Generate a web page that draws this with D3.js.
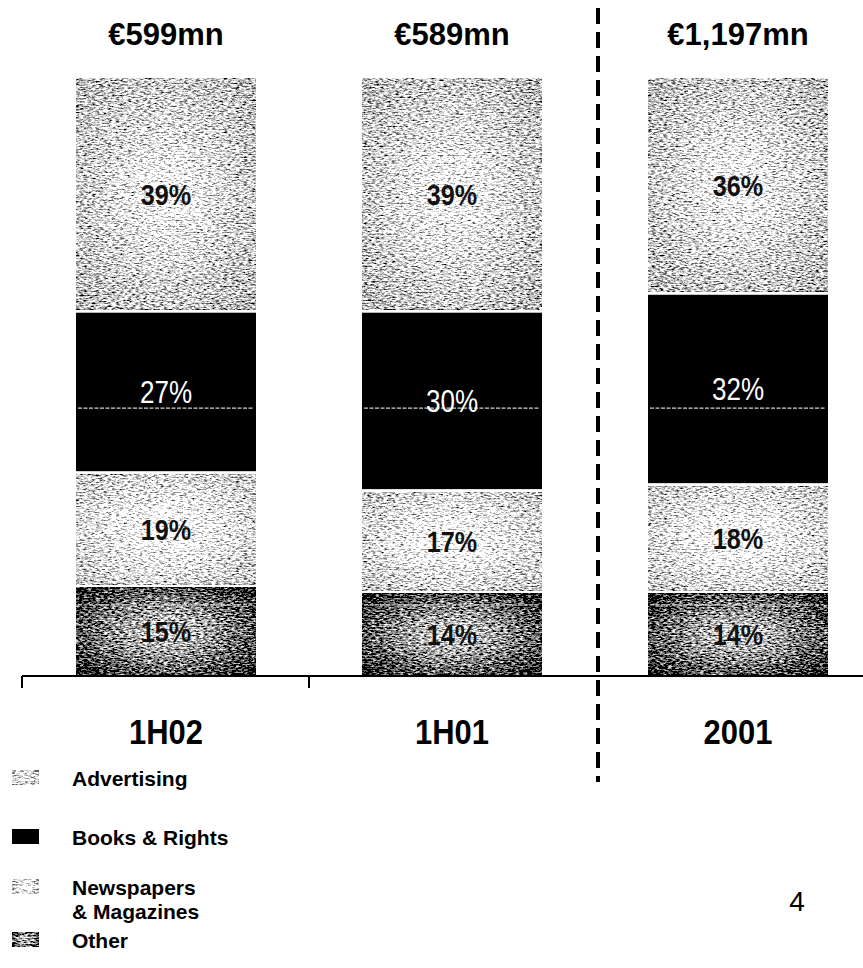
<!DOCTYPE html>
<html>
<head>
<meta charset="utf-8">
<script src="https://cdn.jsdelivr.net/npm/d3@7"></script>
<style>
  html, body { margin: 0; padding: 0; background: #fff; }
  svg { display: block; }
</style>
</head>
<body>
<svg id="chart" width="863" height="968"></svg>
<script>
// Revenue mix by division, share of total (%)
const categories = ["1H02", "1H01", "2001"];
const totals = ["€599mn", "€589mn", "€1,197mn"];
const seriesNames = ["Advertising", "Books & Rights", "Newspapers & Magazines", "Other"];
const advertising = [39, 39, 36];
const booksRights = [27, 30, 32];
const newspapers = [19, 17, 18];
const other = [15, 14, 14];

const rows = categories.map((c, i) => ({
  cat: c,
  "Advertising": advertising[i],
  "Books & Rights": booksRights[i],
  "Newspapers & Magazines": newspapers[i],
  "Other": other[i]
}));

const W = 863, H = 968;
const baseY = 676, topY = 78;
const barW = 180;

const svg = d3.select("#chart");

const x = d3.scalePoint().domain(categories).range([166, 738]);
const y = d3.scaleLinear().domain([0, 100]).range([baseY, topY]);

// stacked from the bottom up
const stackKeys = ["Other", "Newspapers & Magazines", "Books & Rights", "Advertising"];
const stacked = d3.stack().keys(stackKeys)(rows);

const font = "'Liberation Sans', Arial, Helvetica, sans-serif";

// condensed text: horizontal squeeze around the anchor point
function condensed(sel, cx, cy, sx) {
  return sel.attr("x", 0).attr("y", 0)
    .attr("transform", `translate(${cx},${cy}) scale(${sx},1)`);
}

// ---- fills: gradient tone + stipple dither ----
const defs = svg.append("defs");

function radial(id, center, edge) {
  const g = defs.append("radialGradient").attr("id", id)
    .attr("cx", 0.5).attr("cy", 0.5).attr("r", 0.72);
  g.append("stop").attr("offset", 0).attr("stop-color", center);
  g.append("stop").attr("offset", 1).attr("stop-color", edge);
}
radial("g-adv", "#eeeeee", "#949494");
radial("g-news", "#ffffff", "#a4a4a4");
radial("g-other", "#c4c4c4", "#0c0c0c");

const f = defs.append("filter").attr("id", "stipple")
  .attr("x", 0).attr("y", 0).attr("width", 1).attr("height", 1)
  .attr("color-interpolation-filters", "sRGB");
f.append("feTurbulence").attr("type", "fractalNoise")
  .attr("baseFrequency", "0.25 0.65").attr("numOctaves", 2).attr("seed", 7).attr("result", "noise");
f.append("feColorMatrix").attr("in", "noise").attr("type", "matrix")
  .attr("values", "1 0 0 0 0  1 0 0 0 0  1 0 0 0 0  0 0 0 0 1").attr("result", "gray");
f.append("feComposite").attr("in", "SourceGraphic").attr("in2", "gray")
  .attr("operator", "arithmetic")
  .attr("k1", 0).attr("k2", 1).attr("k3", 1.9).attr("k4", -0.95).attr("result", "mix");
const ct = f.append("feComponentTransfer").attr("in", "mix");
["feFuncR", "feFuncG", "feFuncB"].forEach(fn =>
  ct.append(fn).attr("type", "discrete").attr("tableValues", "0 0.35 0.6 0.82 1"));

const fills = {
  "Advertising": "url(#g-adv)",
  "Books & Rights": "#000",
  "Newspapers & Magazines": "url(#g-news)",
  "Other": "url(#g-other)"
};

// ---- bars ----
const gap = 1.5;
const layers = svg.append("g").selectAll("g").data(stacked).join("g");
layers.selectAll("rect").data(d => d.map(v => ({ key: d.key, v, cat: v.data.cat })))
  .join("rect")
  .attr("x", d => x(d.cat) - barW / 2)
  .attr("width", barW)
  .attr("y", d => y(d.v[1]) + (d.v[1] < 100 ? gap : 0))
  .attr("height", d => y(d.v[0]) - y(d.v[1]) - (d.v[1] < 100 ? gap : 0) - (d.v[0] > 0 ? gap : 0))
  .attr("fill", d => fills[d.key])
  .attr("filter", d => d.key === "Books & Rights" ? null : "url(#stipple)");

// faint scan guides crossing the bars
const guideLevels = [44.8, 11.9];
const guides = svg.append("g");
categories.forEach(c => {
  guideLevels.forEach(g => {
    guides.append("line")
      .attr("x1", x(c) - barW / 2 + 2).attr("x2", x(c) + barW / 2 - 2)
      .attr("y1", y(g)).attr("y2", y(g))
      .attr("stroke", "#d0d0d0").attr("stroke-width", 1.2)
      .attr("stroke-dasharray", "4 1.5");
  });
});

// ---- segment value labels ----
const labels = svg.append("g");
stacked.forEach(layer => {
  layer.forEach(v => {
    const isBooks = layer.key === "Books & Rights";
    const t = labels.append("text")
      .attr("dy", "0.36em")
      .attr("text-anchor", "middle")
      .attr("font-family", font)
      .attr("font-weight", isBooks ? "normal" : "bold")
      .attr("font-size", isBooks ? 31 : 30)
      .attr("fill", isBooks ? "#fff" : "#111")
      .text(v.data[layer.key] + "%");
    condensed(t, x(v.data.cat), (y(v[0]) + y(v[1])) / 2, 0.84);
  });
});

// ---- totals above bars ----
svg.append("g").selectAll("text").data(categories).join("text")
  .attr("x", d => x(d))
  .attr("y", 45)
  .attr("text-anchor", "middle")
  .attr("font-family", font)
  .attr("font-weight", "bold")
  .attr("font-size", 31)
  .attr("fill", "#000")
  .text((d, i) => totals[i]);

// ---- baseline axis ----
const axisG = svg.append("g");
axisG.append("line")
  .attr("x1", 22).attr("x2", W).attr("y1", baseY).attr("y2", baseY)
  .attr("stroke", "#000").attr("stroke-width", 2);
const tickXs = [22, (x(categories[0]) + x(categories[1])) / 2];
tickXs.forEach(tx => {
  axisG.append("line")
    .attr("x1", tx).attr("x2", tx).attr("y1", baseY).attr("y2", baseY + 12)
    .attr("stroke", "#000").attr("stroke-width", 2);
});

// category labels
categories.forEach(c => {
  const t = axisG.append("text")
    .attr("text-anchor", "middle")
    .attr("font-family", font)
    .attr("font-weight", "bold")
    .attr("font-size", 36)
    .attr("fill", "#000")
    .text(c);
  condensed(t, x(c), 744, 0.86);
});

// divider between half-year and full-year figures
const divX = (x(categories[1]) + x(categories[2])) / 2 + 3;
svg.append("line")
  .attr("x1", divX).attr("x2", divX).attr("y1", 8).attr("y2", 782)
  .attr("stroke", "#000").attr("stroke-width", 4)
  .attr("stroke-dasharray", "16 8");

// ---- legend ----
const legendItems = [
  { name: "Advertising", lines: ["Advertising"], y: 778 },
  { name: "Books & Rights", lines: ["Books & Rights"], y: 837 },
  { name: "Newspapers & Magazines", lines: ["Newspapers", "& Magazines"], y: 887 },
  { name: "Other", lines: ["Other"], y: 940 }
];
const lg = svg.append("g");
legendItems.forEach(it => {
  lg.append("rect")
    .attr("x", 12).attr("y", it.y - 8).attr("width", 27).attr("height", 15)
    .attr("fill", fills[it.name])
    .attr("filter", it.name === "Books & Rights" ? null : "url(#stipple)");
  const t = lg.append("text")
    .attr("x", 72).attr("y", it.y)
    .attr("font-family", font)
    .attr("font-weight", "bold")
    .attr("font-size", 21)
    .attr("fill", "#000");
  it.lines.forEach((ln, i) => {
    t.append("tspan").attr("x", 72).attr("dy", i === 0 ? "0.36em" : "24px").text(ln);
  });
});

// page number
svg.append("text")
  .attr("x", 797).attr("y", 911)
  .attr("text-anchor", "middle")
  .attr("font-family", font)
  .attr("font-size", 28)
  .attr("fill", "#000")
  .text("4");
</script>
</body>
</html>
